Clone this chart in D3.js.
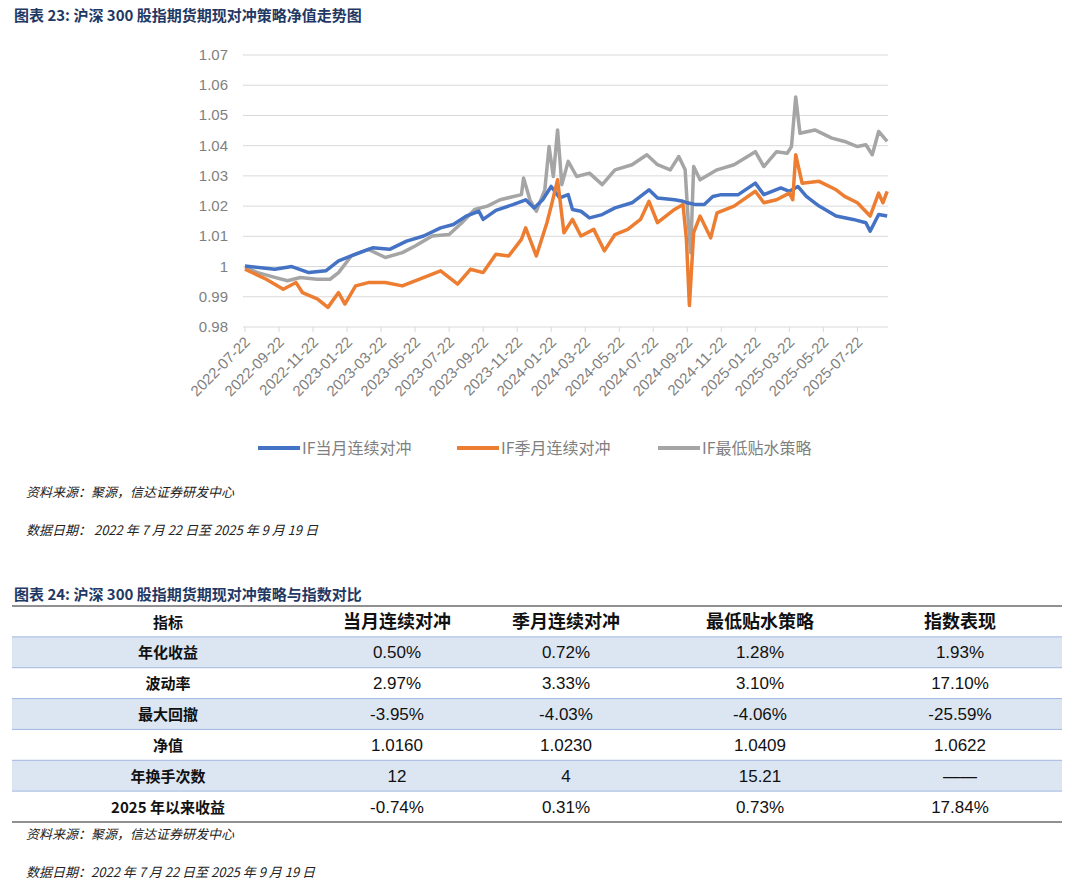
<!DOCTYPE html>
<html><head><meta charset="utf-8">
<script src="https://cdn.jsdelivr.net/npm/d3@7"></script>
<style>body{margin:0;background:#fff}svg{display:block;font-family:"Noto Sans CJK SC","Noto Sans",sans-serif}</style>
</head><body><svg id="c" width="1075" height="889"></svg>
<script>
// months since 2022-07-22
const blueM=[0,1.75,2.75,3.75,4.75,5.5,6.5,7.5,8.5,9.5,10.5,11.5,12.25,13,13.75,14,14.75,15.75,16.5,17,17.5,18,18.5,19,19.25,19.75,20.25,21,21.75,22.75,23.75,24.25,25.25,25.75,26,26.5,27,27.5,28,29,30,30.5,31.5,32,32.5,33,33.75,34.75,35.75,36.5,36.75,37.25,37.75];
const blueV=[1.0002,0.9991,1.0000,0.9980,0.9986,1.0019,1.0041,1.0062,1.0057,1.0084,1.0101,1.0128,1.0139,1.0167,1.0183,1.0156,1.0186,1.0205,1.0221,1.0194,1.0221,1.0265,1.0227,1.0238,1.0189,1.0183,1.0161,1.0172,1.0194,1.0211,1.0254,1.0227,1.0221,1.0216,1.0211,1.0205,1.0205,1.0232,1.0238,1.0238,1.0276,1.0238,1.0260,1.0249,1.0265,1.0232,1.0200,1.0167,1.0156,1.0145,1.0117,1.0172,1.0167];
const orangeM=[0,1.25,2.25,3,3.375,4.25,4.875,5.5,5.875,6.5,7.25,8.25,9.25,10,10.75,11.5,12.5,13.25,14,14.75,15.5,16.25,16.5,17.125,17.75,18,18.375,18.75,19.25,19.75,20.5,21.125,21.75,22.5,23.25,23.75,24.25,25.25,25.75,25.95,26.125,26.375,26.75,27.375,27.75,28.75,30,30.5,31.25,32,32.2,32.375,32.75,33.75,34.75,35.25,36,36.75,37.25,37.5,37.75];
const orangeV=[0.9991,0.9958,0.9925,0.9947,0.9914,0.9893,0.9865,0.9914,0.9876,0.9936,0.9947,0.9947,0.9936,0.9953,0.9969,0.9986,0.9942,0.9991,0.9980,1.0041,1.0035,1.0090,1.0128,1.0035,1.0145,1.0200,1.0287,1.0112,1.0156,1.0101,1.0123,1.0052,1.0106,1.0123,1.0156,1.0216,1.0145,1.0189,1.0205,1.0090,0.9871,1.0112,1.0167,1.0095,1.0178,1.0200,1.0249,1.0211,1.0221,1.0243,1.0221,1.0370,1.0276,1.0282,1.0254,1.0232,1.0211,1.0167,1.0243,1.0211,1.0249];
const grayM=[0,0.75,1.75,2.5,3.25,4.25,5,5.5,6.25,7.25,8.25,9.25,10,11,12,12.75,13.5,14.25,15,16.25,16.375,16.75,17.125,17.625,17.875,18.125,18.375,18.625,19,19.5,20.25,21,21.75,22.75,23.625,24.25,25,25.5,25.875,26.05,26.2,26.375,26.75,27.75,28.75,30,30.5,31.25,31.875,32.125,32.375,32.625,33.5,34.5,35.25,36,36.5,36.875,37.25,37.75];
const grayV=[0.9997,0.9980,0.9964,0.9953,0.9964,0.9958,0.9958,0.9980,1.0035,1.0057,1.0030,1.0046,1.0068,1.0101,1.0106,1.0145,1.0189,1.0200,1.0221,1.0238,1.0293,1.0221,1.0183,1.0254,1.0397,1.0298,1.0452,1.0271,1.0348,1.0298,1.0309,1.0271,1.0320,1.0337,1.0370,1.0337,1.0320,1.0364,1.0320,1.0156,1.0046,1.0331,1.0287,1.0320,1.0337,1.0380,1.0331,1.0380,1.0375,1.0397,1.0561,1.0441,1.0452,1.0425,1.0414,1.0397,1.0403,1.0370,1.0447,1.0414];
const xTickLabels=["2022-07-22","2022-09-22","2022-11-22","2023-01-22","2023-03-22","2023-05-22","2023-07-22","2023-09-22","2023-11-22","2024-01-22","2024-03-22","2024-05-22","2024-07-22","2024-09-22","2024-11-22","2025-01-22","2025-03-22","2025-05-22","2025-07-22"];
const yTicks=[0.98,0.99,1,1.01,1.02,1.03,1.04,1.05,1.06,1.07];
const seriesNames=["IF当月连续对冲","IF季月连续对冲","IF最低贴水策略"];
const colors=["#4472c4","#ed7d31","#a5a5a5"];
const tableHeader=["指标","当月连续对冲","季月连续对冲","最低贴水策略","指数表现"];
const rowNames=["年化收益","波动率","最大回撤","净值","年换手次数","2025 年以来收益"];
const colMonthly=["0.50%","2.97%","-3.95%","1.0160","12","-0.74%"];
const colQuarterly=["0.72%","3.33%","-4.03%","1.0230","4","0.31%"];
const colLowDisc=["1.28%","3.10%","-4.06%","1.0409","15.21","0.73%"];
const colIndex=["1.93%","17.10%","-25.59%","1.0622","——","17.84%"];

const svg=d3.select("#c");
const navy="#1f3864";
svg.append("text").attr("x",14).attr("y",21).attr("font-size",15).attr("font-weight","bold").attr("fill",navy).text("图表 23:  沪深 300 股指期货期现对冲策略净值走势图");
const x=d3.scaleLinear().domain([0,37.8]).range([245,888]);
const y=d3.scaleLinear().domain([0.98,1.07]).range([327,55]);
const g=svg.append("g");
yTicks.forEach(t=>{
  if(t>0.98) g.append("line").attr("x1",243).attr("x2",888).attr("y1",y(t)).attr("y2",y(t)).attr("stroke","#d9d9d9");
  g.append("text").attr("x",228).attr("y",y(t)+5).attr("text-anchor","end").attr("font-size",15).attr("fill","#7f7f7f").attr("font-family","Liberation Sans, Arial").text(d3.format("")(t));
});
g.append("line").attr("x1",243).attr("x2",888).attr("y1",327).attr("y2",327).attr("stroke","#d9d9d9");
xTickLabels.forEach((l,i)=>{
  const xx=x(i*2);
  g.append("line").attr("x1",xx).attr("x2",xx).attr("y1",327).attr("y2",332).attr("stroke","#d9d9d9");
  g.append("text").attr("transform",`translate(${xx+6},343) rotate(-45)`).attr("text-anchor","end").attr("font-size",15).attr("fill","#7f7f7f").attr("font-family","Liberation Sans, Arial").text(l);
});
const line=d3.line().x(d=>x(d[0])).y(d=>y(d[1])).curve(d3.curveLinear);
const data=[[grayM,grayV,2],[blueM,blueV,0],[orangeM,orangeV,1]];
data.forEach(([m,v,c])=>{
  g.append("path").attr("d",line(m.map((d,i)=>[d,v[i]]))).attr("fill","none").attr("stroke",colors[c]).attr("stroke-width",3.5).attr("stroke-linejoin","round");
});
const lx=[258,457,658];
seriesNames.forEach((n,i)=>{
  g.append("line").attr("x1",lx[i]).attr("x2",lx[i]+42).attr("y1",448).attr("y2",448).attr("stroke",colors[i]).attr("stroke-width",4);
  g.append("text").attr("x",lx[i]+44).attr("y",454).attr("font-size",16).attr("fill","#7f7f7f").text(n);
});
const note=(t,yy)=>svg.append("text").attr("x",26).attr("y",yy).attr("font-size",13).attr("font-style","italic").attr("fill","#222").text(t);
note("资料来源：聚源，信达证券研发中心",497);note("数据日期： 2022 年 7 月 22 日至 2025 年 9 月 19 日",535);
svg.append("text").attr("x",14).attr("y",600).attr("font-size",15).attr("font-weight","bold").attr("fill",navy).text("图表 24:  沪深 300 股指期货期现对冲策略与指数对比");
svg.append("line").attr("x1",12).attr("x2",1062).attr("y1",606).attr("y2",606).attr("stroke","#222").attr("stroke-width",1);
const cx=[168,397,566,760,960];
const rowY=d3.scaleBand().domain(d3.range(7)).range([606,822]);
tableHeader.forEach((h,i)=>svg.append("text").attr("x",cx[i]).attr("y",rowY(0)+rowY.bandwidth()/2+7).attr("text-anchor","middle").attr("font-size",i?18:15).attr("font-weight","bold").attr("fill","#111").text(h));
const cols=[colMonthly,colQuarterly,colLowDisc,colIndex];
rowNames.forEach((r,j)=>{
  const yy=rowY(j+1);
  if(j%2===0) svg.append("rect").attr("x",12).attr("y",yy).attr("width",1050).attr("height",rowY.bandwidth()).attr("fill","#dce6f2");
  svg.append("line").attr("x1",12).attr("x2",1062).attr("y1",yy).attr("y2",yy).attr("stroke","#8eaadb").attr("stroke-width",0.8);
  svg.append("text").attr("x",cx[0]).attr("y",yy+rowY.bandwidth()/2+6).attr("text-anchor","middle").attr("font-size",15).attr("font-weight","bold").attr("fill","#111").text(r);
  cols.forEach((c,k)=>svg.append("text").attr("x",cx[k+1]).attr("y",yy+rowY.bandwidth()/2+6).attr("text-anchor","middle").attr("font-size",17).attr("fill","#111").attr("font-family","Liberation Sans Narrow, Liberation Sans").text(c[j]));
});
svg.append("line").attr("x1",12).attr("x2",1062).attr("y1",822).attr("y2",822).attr("stroke","#222");
note("资料来源：聚源，信达证券研发中心",839);note("数据日期：2022 年 7 月 22 日至 2025 年 9 月 19 日",877);
</script></body></html>
